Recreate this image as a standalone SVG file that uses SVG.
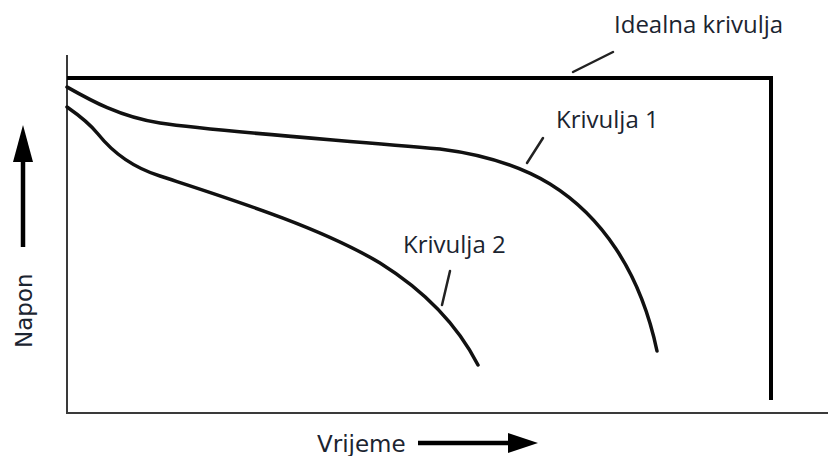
<svg xmlns="http://www.w3.org/2000/svg" width="828" height="456" viewBox="0 0 828 456">
<style>
.axis{stroke:#3a3a3a;stroke-width:2;fill:none}
.curve{stroke:#111;stroke-width:3.5;fill:none;stroke-linecap:round;stroke-linejoin:round}
.ideal{stroke:#000;stroke-width:4;fill:none;stroke-linejoin:miter}
.leader{stroke:#222;stroke-width:2.5;fill:none;stroke-linecap:round}
.lbl{font-family:"Open Sans","Liberation Sans",sans-serif;font-size:24px;fill:#1b2430}
.axlbl{font-family:"DejaVu Sans","Liberation Sans",sans-serif;font-size:23px;fill:#1b2430}
.arr{stroke:#000;stroke-width:4.5;fill:none}
</style>
<rect width="828" height="456" fill="#fff"/>
<g id="axes">
<line class="axis" x1="67" y1="55" x2="67" y2="413"/>
<line class="axis" x1="66" y1="413" x2="828" y2="413"/>
</g>
<g id="ideal-curve">
<path class="ideal" d="M67,78 H771 V400"/>
</g>
<g id="curve-1">
<path class="curve" d="M67,87 C90,100 120,117 160,123 C220,132 330,139 440,149 C480,154 520,166 550,184 C600,215 640,270 657,351"/>
</g>
<g id="curve-2">
<path class="curve" d="M67,107 C80,116 90,124 98,134 C110,149 128,166 160,176 C230,199 320,227 380,263 C420,288 455,320 478,365"/>
</g>
<g id="connectors">
<line class="leader" x1="573" y1="72" x2="613" y2="52"/>
<line class="leader" x1="543" y1="138" x2="527" y2="163"/>
<line class="leader" x1="450" y1="271" x2="442" y2="305"/>
</g>
<g id="labels">
<text class="lbl" x="614" y="33">Idealna krivulja</text>
<text class="lbl" x="556" y="128">Krivulja 1</text>
<text class="lbl" x="403" y="253">Krivulja 2</text>
</g>
<g id="y-label">
<text class="axlbl" transform="translate(32,348) rotate(-90)">Napon</text>
<line class="arr" x1="23" y1="247" x2="23" y2="158"/>
<polygon points="23,125 13,162 33,162" fill="#000"/>
</g>
<g id="x-label">
<text class="axlbl" x="317" y="452">Vrijeme</text>
<line class="arr" x1="418" y1="443" x2="512" y2="443"/>
<polygon points="538,443 508,433 508,453" fill="#000"/>
</g>
</svg>
